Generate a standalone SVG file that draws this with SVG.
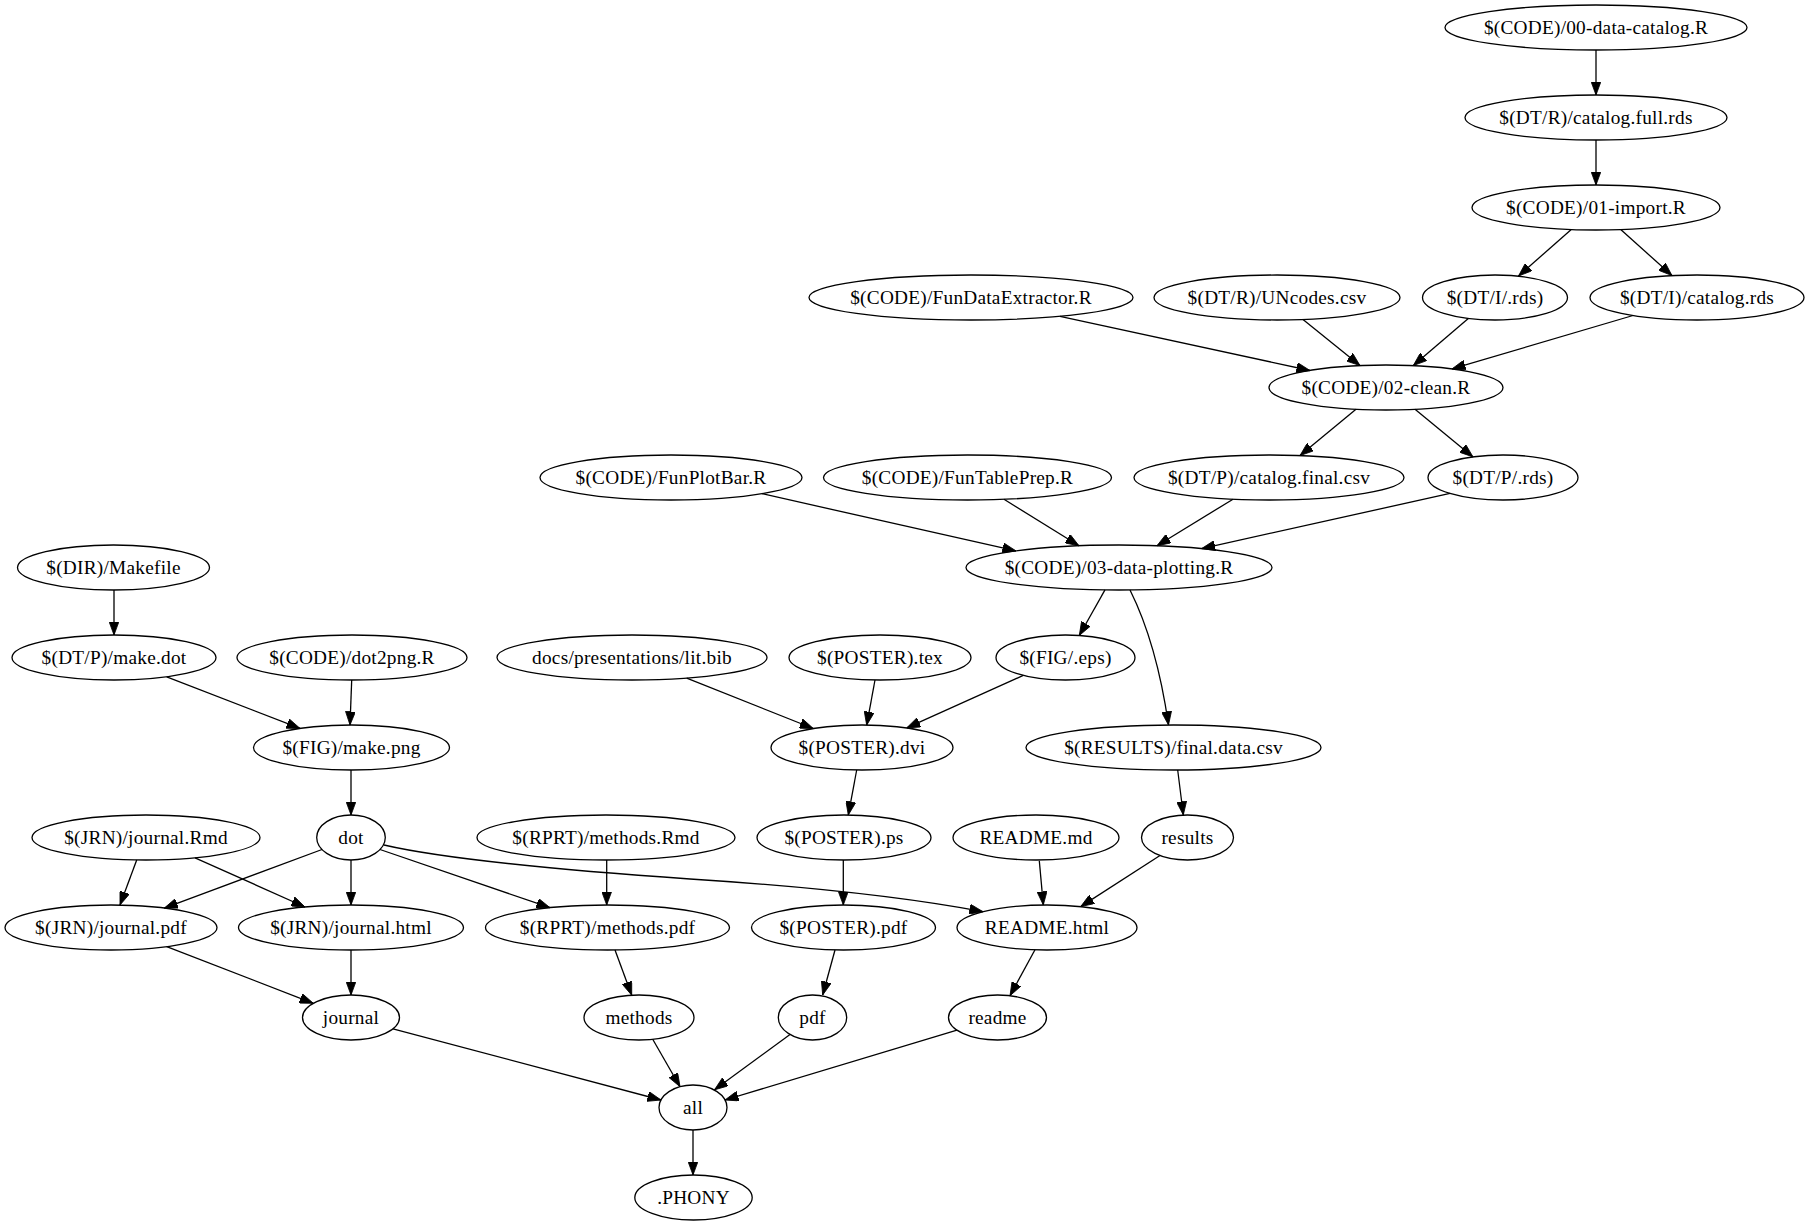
<svg xmlns="http://www.w3.org/2000/svg" width="1810" height="1225" viewBox="0 0 1810 1225">
<style>
.n ellipse{fill:none;stroke:#000;stroke-width:1.3}
.n text{font-family:"Liberation Serif","Times New Roman",serif;font-size:19.3px;letter-spacing:0.25px;text-anchor:middle;fill:#000}
.e path{fill:none;stroke:#000;stroke-width:1.3;marker-end:url(#ah)}
</style>
<defs>
<marker id="ah" viewBox="0 0 13.5 10" refX="13.5" refY="5" markerWidth="13.5" markerHeight="10" markerUnits="userSpaceOnUse" orient="auto">
<path d="M0,0 L13.5,5 L0,10 Z" fill="#000" stroke="#000" stroke-width="0.8"/>
</marker>
</defs>
<rect width="1810" height="1225" fill="#fff"/>
<g id="edges" class="e">
<path d="M1596,50 L1596,95"/>
<path d="M1596,140 L1596,185"/>
<path d="M1571,229.7 L1518.5,276"/>
<path d="M1621,229.7 L1672,275.6"/>
<path d="M1060,316.3 L1310,370.5"/>
<path d="M1303,319.5 L1360,365.6"/>
<path d="M1468.3,318.4 L1413.3,365.6"/>
<path d="M1633,315.5 L1452,368.9"/>
<path d="M1356,409.3 L1300,455.6"/>
<path d="M1415,409.3 L1473,456.9"/>
<path d="M762,493.7 L1016,550.9"/>
<path d="M1004,499.3 L1079,545.8"/>
<path d="M1233,499.2 L1157,545.7"/>
<path d="M1450,493.4 L1201.6,548.6"/>
<path d="M1105,589.9 L1079.3,635.5"/>
<path d="M1130,590 C1150,630 1162,680 1168.5,725"/>
<path d="M114,590 L114,635"/>
<path d="M166.7,676.8 L300,728.4"/>
<path d="M351.7,680 L350,725"/>
<path d="M686.7,678.1 L813.3,728.5"/>
<path d="M875,680 L866.7,725.2"/>
<path d="M1023.3,675.4 L906.7,727.9"/>
<path d="M351,770 L351,815"/>
<path d="M856.7,770 L848.3,815"/>
<path d="M1177.7,770 L1183.3,815"/>
<path d="M136.7,860 L120,905"/>
<path d="M195,857.8 L305,907"/>
<path d="M322,849.5 L164.3,908.1"/>
<path d="M351,860 L351,905"/>
<path d="M380,849.5 L550,907.7"/>
<path d="M384,845 C440,858 560,870 690,879 C800,886 900,896 983,911.7"/>
<path d="M606.7,860 L606.7,905"/>
<path d="M843.3,860 L843.3,905"/>
<path d="M1039.3,860.7 L1043.3,905"/>
<path d="M1160,855.5 L1080.7,906.6"/>
<path d="M166.7,946.7 L313.3,1003.3"/>
<path d="M351,950 L351,995"/>
<path d="M615,950 L631.7,995.2"/>
<path d="M835,950 L822.7,995"/>
<path d="M1035,949.8 L1010,995.7"/>
<path d="M393,1028.8 L661,1100"/>
<path d="M652.7,1039.3 L680,1086.7"/>
<path d="M790,1034.4 L714.5,1089.8"/>
<path d="M957,1030.2 L725,1100"/>
<path d="M693,1130 L693,1175"/>
</g>
<g id="n_00" class="n"><ellipse cx="1596" cy="27.5" rx="151" ry="22.5"/><text x="1596" y="33.5">$(CODE)/00-data-catalog.R</text></g>
<g id="n_catfull" class="n"><ellipse cx="1596" cy="117.5" rx="131" ry="22.5"/><text x="1596" y="123.5">$(DT/R)/catalog.full.rds</text></g>
<g id="n_01" class="n"><ellipse cx="1596" cy="207.5" rx="124" ry="22.5"/><text x="1596" y="213.5">$(CODE)/01-import.R</text></g>
<g id="n_fde" class="n"><ellipse cx="971" cy="297.5" rx="162" ry="22.5"/><text x="971" y="303.5">$(CODE)/FunDataExtractor.R</text></g>
<g id="n_unc" class="n"><ellipse cx="1277" cy="297.5" rx="123" ry="22.5"/><text x="1277" y="303.5">$(DT/R)/UNcodes.csv</text></g>
<g id="n_irds" class="n"><ellipse cx="1495" cy="297.5" rx="72.5" ry="22.5"/><text x="1495" y="303.5">$(DT/I/.rds)</text></g>
<g id="n_icat" class="n"><ellipse cx="1697" cy="297.5" rx="107" ry="22.5"/><text x="1697" y="303.5">$(DT/I)/catalog.rds</text></g>
<g id="n_02" class="n"><ellipse cx="1386" cy="387.5" rx="117" ry="22.5"/><text x="1386" y="393.5">$(CODE)/02-clean.R</text></g>
<g id="n_fpb" class="n"><ellipse cx="671" cy="477.5" rx="131" ry="22.5"/><text x="671" y="483.5">$(CODE)/FunPlotBar.R</text></g>
<g id="n_ftp" class="n"><ellipse cx="967.5" cy="477.5" rx="144" ry="22.5"/><text x="967.5" y="483.5">$(CODE)/FunTablePrep.R</text></g>
<g id="n_pcat" class="n"><ellipse cx="1269" cy="477.5" rx="135" ry="22.5"/><text x="1269" y="483.5">$(DT/P)/catalog.final.csv</text></g>
<g id="n_prds" class="n"><ellipse cx="1503" cy="477.5" rx="75" ry="22.5"/><text x="1503" y="483.5">$(DT/P/.rds)</text></g>
<g id="n_mk" class="n"><ellipse cx="113.5" cy="567.5" rx="96" ry="22.5"/><text x="113.5" y="573.5">$(DIR)/Makefile</text></g>
<g id="n_03" class="n"><ellipse cx="1119" cy="567.5" rx="153" ry="22.5"/><text x="1119" y="573.5">$(CODE)/03-data-plotting.R</text></g>
<g id="n_mdot" class="n"><ellipse cx="114" cy="657.5" rx="102" ry="22.5"/><text x="114" y="663.5">$(DT/P)/make.dot</text></g>
<g id="n_d2p" class="n"><ellipse cx="352" cy="657.5" rx="115" ry="22.5"/><text x="352" y="663.5">$(CODE)/dot2png.R</text></g>
<g id="n_bib" class="n"><ellipse cx="632" cy="657.5" rx="135" ry="22.5"/><text x="632" y="663.5">docs/presentations/lit.bib</text></g>
<g id="n_ptex" class="n"><ellipse cx="880" cy="657.5" rx="91" ry="22.5"/><text x="880" y="663.5">$(POSTER).tex</text></g>
<g id="n_eps" class="n"><ellipse cx="1065.5" cy="657.5" rx="69.5" ry="22.5"/><text x="1065.5" y="663.5">$(FIG/.eps)</text></g>
<g id="n_mpng" class="n"><ellipse cx="351.5" cy="747.5" rx="98" ry="22.5"/><text x="351.5" y="753.5">$(FIG)/make.png</text></g>
<g id="n_dvi" class="n"><ellipse cx="862" cy="747.5" rx="91" ry="22.5"/><text x="862" y="753.5">$(POSTER).dvi</text></g>
<g id="n_res" class="n"><ellipse cx="1173.5" cy="747.5" rx="147.5" ry="22.5"/><text x="1173.5" y="753.5">$(RESULTS)/final.data.csv</text></g>
<g id="n_jrmd" class="n"><ellipse cx="146" cy="837.5" rx="114" ry="22.5"/><text x="146" y="843.5">$(JRN)/journal.Rmd</text></g>
<g id="n_dot" class="n"><ellipse cx="351" cy="837.5" rx="34.3" ry="22.5"/><text x="351" y="843.5">dot</text></g>
<g id="n_mrmd" class="n"><ellipse cx="606" cy="837.5" rx="129" ry="22.5"/><text x="606" y="843.5">$(RPRT)/methods.Rmd</text></g>
<g id="n_ps" class="n"><ellipse cx="844" cy="837.5" rx="87" ry="22.5"/><text x="844" y="843.5">$(POSTER).ps</text></g>
<g id="n_rmd" class="n"><ellipse cx="1036" cy="837.5" rx="83" ry="22.5"/><text x="1036" y="843.5">README.md</text></g>
<g id="n_results" class="n"><ellipse cx="1187.5" cy="837.5" rx="46" ry="22.5"/><text x="1187.5" y="843.5">results</text></g>
<g id="n_jpdf" class="n"><ellipse cx="111" cy="927.5" rx="106" ry="22.5"/><text x="111" y="933.5">$(JRN)/journal.pdf</text></g>
<g id="n_jhtml" class="n"><ellipse cx="351" cy="927.5" rx="112.5" ry="22.5"/><text x="351" y="933.5">$(JRN)/journal.html</text></g>
<g id="n_mpdf" class="n"><ellipse cx="607.5" cy="927.5" rx="122" ry="22.5"/><text x="607.5" y="933.5">$(RPRT)/methods.pdf</text></g>
<g id="n_ppdf" class="n"><ellipse cx="843.5" cy="927.5" rx="92" ry="22.5"/><text x="843.5" y="933.5">$(POSTER).pdf</text></g>
<g id="n_rhtml" class="n"><ellipse cx="1047" cy="927.5" rx="90" ry="22.5"/><text x="1047" y="933.5">README.html</text></g>
<g id="n_journal" class="n"><ellipse cx="351" cy="1017.5" rx="48.5" ry="22.5"/><text x="351" y="1023.5">journal</text></g>
<g id="n_methods" class="n"><ellipse cx="639" cy="1017.5" rx="55" ry="22.5"/><text x="639" y="1023.5">methods</text></g>
<g id="n_pdf" class="n"><ellipse cx="812.5" cy="1017.5" rx="34.2" ry="22.5"/><text x="812.5" y="1023.5">pdf</text></g>
<g id="n_readme" class="n"><ellipse cx="997.5" cy="1017.5" rx="49" ry="22.5"/><text x="997.5" y="1023.5">readme</text></g>
<g id="n_all" class="n"><ellipse cx="693" cy="1107.5" rx="34" ry="22.5"/><text x="693" y="1113.5">all</text></g>
<g id="n_phony" class="n"><ellipse cx="693.5" cy="1197.5" rx="58.7" ry="22.5"/><text x="693.5" y="1203.5">.PHONY</text></g>
</svg>
